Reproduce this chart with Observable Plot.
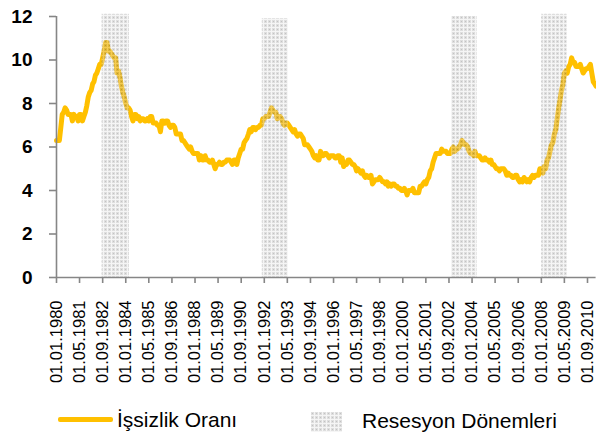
<!DOCTYPE html>
<html>
<head>
<meta charset="utf-8">
<script src="https://cdn.jsdelivr.net/npm/d3@7"></script>
<script src="https://cdn.jsdelivr.net/npm/@observablehq/plot@0.6"></script>
<style>
  html, body { margin: 0; padding: 0; background: #fff; }
  body { width: 596px; height: 436px; overflow: hidden; font-family: "Liberation Sans", Arial, sans-serif; }
  #legend { position: relative; width: 596px; height: 36px; }
  #legend .line { position: absolute; left: 58px; top: 17px; width: 55px; height: 4.5px; background: #FFC000; border-radius: 2px; }
  #legend .t1 { position: absolute; left: 117px; top: 9px; font-size: 21px; line-height: 21px; color: #000; white-space: nowrap; }
  #legend .box { position: absolute; left: 311px; top: 12px; }
  #legend .t2 { position: absolute; left: 362px; top: 10px; font-size: 21px; line-height: 21px; color: #000; white-space: nowrap; }
</style>
</head>
<body>
<div id="chart"></div>
<div id="legend">
  <div class="line"></div><div class="t1">İşsizlik Oranı</div>
  <svg class="box" width="31" height="20"><rect width="31" height="20" fill="url(#resesyonLeg)" fill-opacity="0.36"/></svg>
  <div class="t2">Resesyon Dönemleri</div>
</div>
<script>
// İşsizlik oranı (%), aylık, 01.1980'den itibaren
const firstMonth = "1980-01-01";
const rates1980s = [
  6.3, 6.3, 6.3, 6.9, 7.5, 7.6, 7.8, 7.7, 7.5, 7.5, 7.5, 7.2,
  7.5, 7.4, 7.4, 7.2, 7.5, 7.5, 7.2, 7.4, 7.6, 7.9, 8.3, 8.5,
  8.6, 8.9, 9.0, 9.3, 9.4, 9.6, 9.8, 9.8, 10.1, 10.4, 10.8, 10.8,
  10.4, 10.4, 10.3, 10.2, 10.1, 10.1, 9.4, 9.5, 9.2, 8.8, 8.5, 8.3,
  8.0, 7.8, 7.8, 7.7, 7.4, 7.2, 7.5, 7.5, 7.3, 7.4, 7.2, 7.3,
  7.3, 7.2, 7.2, 7.3, 7.2, 7.4, 7.4, 7.1, 7.1, 7.1, 7.0, 7.0,
  6.7, 7.2, 7.2, 7.1, 7.2, 7.2, 7.0, 6.9, 7.0, 7.0, 6.9, 6.6,
  6.6, 6.6, 6.6, 6.3, 6.3, 6.2, 6.1, 6.0, 5.9, 6.0, 5.8, 5.7,
  5.7, 5.7, 5.7, 5.4, 5.6, 5.4, 5.4, 5.6, 5.4, 5.4, 5.3, 5.3,
  5.4, 5.2, 5.0, 5.2, 5.2, 5.3, 5.2, 5.2, 5.3, 5.3, 5.4, 5.4
];
const rates1990s = [
  5.4, 5.3, 5.2, 5.4, 5.4, 5.2, 5.5, 5.7, 5.9, 5.9, 6.2, 6.3,
  6.4, 6.6, 6.8, 6.7, 6.9, 6.9, 6.8, 6.9, 6.9, 7.0, 7.0, 7.3,
  7.3, 7.4, 7.4, 7.4, 7.6, 7.8, 7.7, 7.6, 7.6, 7.3, 7.4, 7.4,
  7.3, 7.1, 7.0, 7.1, 7.1, 7.0, 6.9, 6.8, 6.7, 6.8, 6.6, 6.5,
  6.6, 6.6, 6.5, 6.4, 6.1, 6.1, 6.1, 6.0, 5.9, 5.8, 5.6, 5.5,
  5.6, 5.4, 5.4, 5.8, 5.6, 5.6, 5.7, 5.7, 5.6, 5.5, 5.6, 5.6,
  5.6, 5.5, 5.5, 5.6, 5.6, 5.3, 5.5, 5.1, 5.2, 5.2, 5.4, 5.4,
  5.3, 5.2, 5.2, 5.1, 4.9, 5.0, 4.9, 4.8, 4.9, 4.7, 4.6, 4.7,
  4.6, 4.6, 4.7, 4.3, 4.4, 4.5, 4.5, 4.5, 4.6, 4.5, 4.4, 4.4,
  4.3, 4.4, 4.2, 4.3, 4.2, 4.3, 4.3, 4.2, 4.2, 4.1, 4.1, 4.0
];
const rates2000s = [
  4.0, 4.1, 4.0, 3.8, 4.0, 4.0, 4.0, 4.1, 3.9, 3.9, 3.9, 3.9,
  4.2, 4.2, 4.3, 4.4, 4.3, 4.5, 4.6, 4.9, 5.0, 5.3, 5.5, 5.7,
  5.7, 5.7, 5.7, 5.9, 5.8, 5.8, 5.8, 5.7, 5.7, 5.7, 5.9, 6.0,
  5.8, 5.9, 5.9, 6.0, 6.1, 6.3, 6.2, 6.1, 6.1, 6.0, 5.8, 5.7,
  5.7, 5.6, 5.8, 5.6, 5.6, 5.6, 5.5, 5.4, 5.4, 5.5, 5.4, 5.4,
  5.3, 5.4, 5.2, 5.2, 5.1, 5.0, 5.0, 4.9, 5.0, 5.0, 5.0, 4.9,
  4.7, 4.8, 4.7, 4.7, 4.6, 4.6, 4.7, 4.7, 4.5, 4.4, 4.5, 4.4,
  4.6, 4.5, 4.4, 4.5, 4.4, 4.6, 4.7, 4.6, 4.7, 4.7, 4.7, 5.0,
  5.0, 4.8, 5.1, 5.0, 5.4, 5.5, 5.8, 6.1, 6.2, 6.6, 6.8, 7.3,
  7.8, 8.2, 8.6, 8.9, 9.4, 9.5, 9.4, 9.7, 9.8, 10.1, 9.9, 9.9
];
const rates2010s = [
  9.7, 9.7, 9.7, 9.8, 9.6, 9.4, 9.5, 9.6, 9.6, 9.7, 9.8, 9.4,
  9.0, 8.9, 8.8
];

// Resesyon dönemleri (gölgeli alanlar)
const recessionStart = ["1982-08-20", "1991-11-20", "2002-10-25", "2008-01-10"];
const recessionEnd   = ["1984-03-20", "1993-05-20", "2004-04-18", "2009-06-28"];
const recessionTop   = [12.1, 11.9, 12.0, 12.1];

// Eksen etiketleri
const xTickLabels = [
  "01.01.1980", "01.05.1981", "01.09.1982", "01.01.1984", "01.05.1985", "01.09.1986",
  "01.01.1988", "01.05.1989", "01.09.1990", "01.01.1992", "01.05.1993", "01.09.1994",
  "01.01.1996", "01.05.1997", "01.09.1998", "01.01.2000", "01.05.2001", "01.09.2002",
  "01.01.2004", "01.05.2005", "01.09.2006", "01.01.2008", "01.05.2009", "01.09.2010"
];
const yTicks = [0, 2, 4, 6, 8, 10, 12];

// ---- tables built from the arrays ----
const allRates = [...rates1980s, ...rates1990s, ...rates2000s, ...rates2010s];
const start = new Date(firstMonth + "T00:00:00Z");
const series = allRates.map((v, i) => ({
  date: new Date(Date.UTC(start.getUTCFullYear(), start.getUTCMonth() + i, 1)),
  rate: v
}));
const recessions = recessionStart.map((s, i) => ({
  start: new Date(s + "T00:00:00Z"),
  end: new Date(recessionEnd[i] + "T00:00:00Z"),
  top: recessionTop[i]
}));
const parseLabel = d3.utcParse("%d.%m.%Y");
const tickDates = xTickLabels.map(parseLabel);
const labelByTime = new Map(tickDates.map((d, i) => [+d, xTickLabels[i]]));
const firstDate = tickDates[0];
const lastDate = series[series.length - 1].date;

const axisGray = "#868686";

const chart = Plot.plot({
  width: 596,
  height: 400,
  marginLeft: 56,
  marginRight: 9,
  marginTop: 16,
  marginBottom: 123,
  style: { fontFamily: '"Liberation Sans", Arial, sans-serif', background: "white", overflow: "visible", color: "#000" },
  x: { type: "utc", domain: [tickDates[0], tickDates[tickDates.length - 1]] },
  y: { domain: [0, 12] },
  marks: [
    Plot.line(series, { x: "date", y: "rate", stroke: "#FFC000", strokeWidth: 5, strokeLinejoin: "round", strokeLinecap: "round" }),
    Plot.rect(recessions, { x1: "start", x2: "end", y1: 0, y2: "top", fill: "url(#resesyon)", fillOpacity: 0.36 }),
    Plot.ruleX([firstDate], { y1: 0, y2: 12, stroke: axisGray, strokeWidth: 1.6 }),
    Plot.ruleY([0], { x1: () => firstDate, x2: () => lastDate, stroke: axisGray, strokeWidth: 1.6 }),
    Plot.axisY({ ticks: yTicks, tickSize: 7, tickPadding: 17, fontSize: 19, fontWeight: "bold", stroke: axisGray, strokeWidth: 1.6, label: null, tickFormat: d => String(d) }),
    Plot.axisX({ ticks: tickDates, tickFormat: d => labelByTime.get(+d) ?? "", tickRotate: -90, tickSize: 6, tickPadding: 17, fontSize: 16.5, stroke: axisGray, strokeWidth: 1.6, label: null })
  ]
});

function makePattern(id) {
  return `<pattern id="${id}" width="4" height="4" patternUnits="userSpaceOnUse">
    <rect width="4" height="4" fill="#a4a4a4"/>
    <rect x="0" y="3" width="4" height="1" fill="#e2e2e2"/>
    <rect x="3" y="0" width="1" height="4" fill="#e2e2e2"/>
    <rect x="1" y="1" width="1" height="1" fill="#5a5a5a"/>
  </pattern>`;
}
const svgNS = "http://www.w3.org/2000/svg";
const defs = document.createElementNS(svgNS, "defs");
defs.innerHTML = makePattern("resesyon");
chart.insertBefore(defs, chart.firstChild);
document.getElementById("chart").appendChild(chart);

const legSvg = document.querySelector("#legend svg");
const legDefs = document.createElementNS(svgNS, "defs");
legDefs.innerHTML = makePattern("resesyonLeg");
legSvg.insertBefore(legDefs, legSvg.firstChild);
</script>
</body>
</html>
